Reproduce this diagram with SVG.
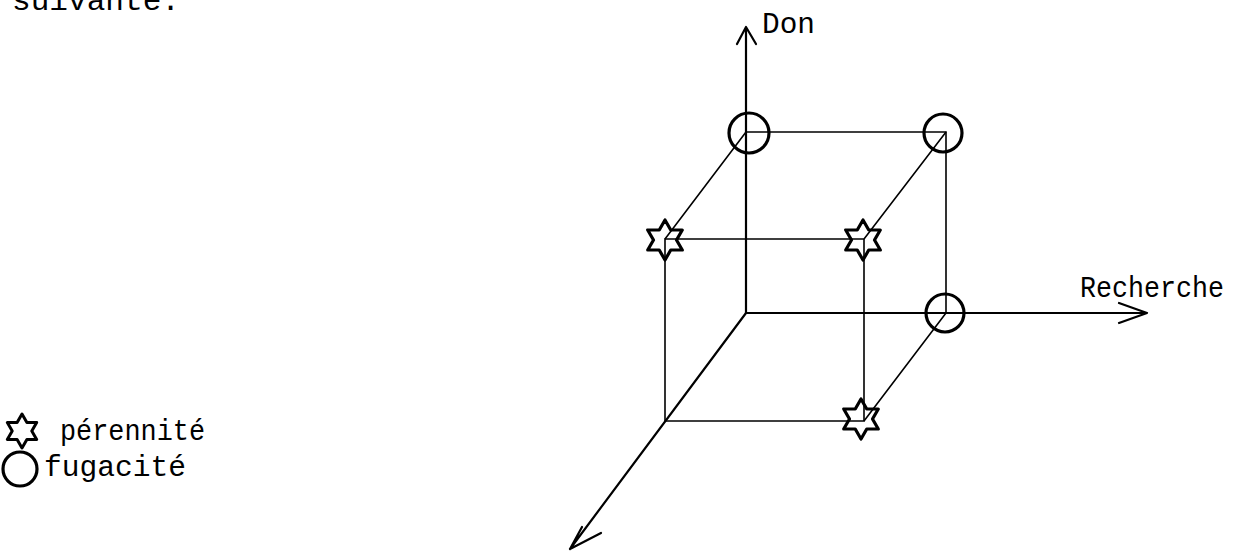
<svg xmlns="http://www.w3.org/2000/svg" width="1235" height="552" viewBox="0 0 1235 552">
<style>
.t{font-family:"Liberation Mono","DejaVu Sans Mono",monospace;font-size:30px;fill:#000}
.ax{stroke:#000;stroke-width:2.2;fill:none;stroke-linecap:round;stroke-linejoin:round}
.ed{stroke:#000;stroke-width:1.6;fill:none}
.mk{stroke:#000;stroke-width:3.2;fill:none;stroke-linejoin:round}
</style>
<defs>
<polygon id="star" points="0,-20 5.75,-10 17.3,-10 11.5,0 17.3,10 5.75,10 0,20 -5.75,10 -17.3,10 -11.5,0 -17.3,-10 -5.75,-10"/>
</defs>
<rect width="1235" height="552" fill="#fff"/>
<text class="t" x="12" y="10" textLength="168" lengthAdjust="spacingAndGlyphs">suivante.</text>
<g id="connectors">
<path class="ax" d="M746,313 V27 M737,44 L746,27 L756,44"/>
<path class="ax" d="M746,313 H1147 M1119,303 L1147,313 L1119,323"/>
<path class="ax" d="M746,313 L570,549 M582,527 L570,549 L601,533"/>
<path class="ed" d="M746,132 H946 V313"/>
<path class="ed" d="M665,239 H864 V421 H665 Z"/>
<path class="ed" d="M665,239 L746,132 M864,239 L946,132 M864,421 L946,313"/>
</g>
<g id="axis-labels">
<text class="t" x="762" y="33" textLength="53" lengthAdjust="spacingAndGlyphs">Don</text>
<text class="t" x="1080" y="297" textLength="144" lengthAdjust="spacingAndGlyphs">Recherche</text>
</g>
<g id="n-back-top-left"><circle class="mk" cx="749" cy="133" r="20"/></g>
<g id="n-back-top-right"><circle class="mk" cx="943" cy="133" r="19"/></g>
<g id="n-back-bottom-right"><circle class="mk" cx="945" cy="313" r="19"/></g>
<g id="n-front-top-left"><use href="#star" class="mk" x="665" y="240"/></g>
<g id="n-front-top-right"><use href="#star" class="mk" x="863" y="240"/></g>
<g id="n-front-bottom-right"><use href="#star" class="mk" x="861" y="419"/></g>
<g id="legend">
<use href="#star" class="mk" transform="translate(22,431) scale(0.85)" style="stroke-width:3.5"/>
<text class="t" x="60" y="440" textLength="145" lengthAdjust="spacingAndGlyphs">pérennité</text>
<circle class="mk" cx="20" cy="469" r="17"/>
<text class="t" x="44" y="476" textLength="142" lengthAdjust="spacingAndGlyphs">fugacité</text>
</g>
</svg>
